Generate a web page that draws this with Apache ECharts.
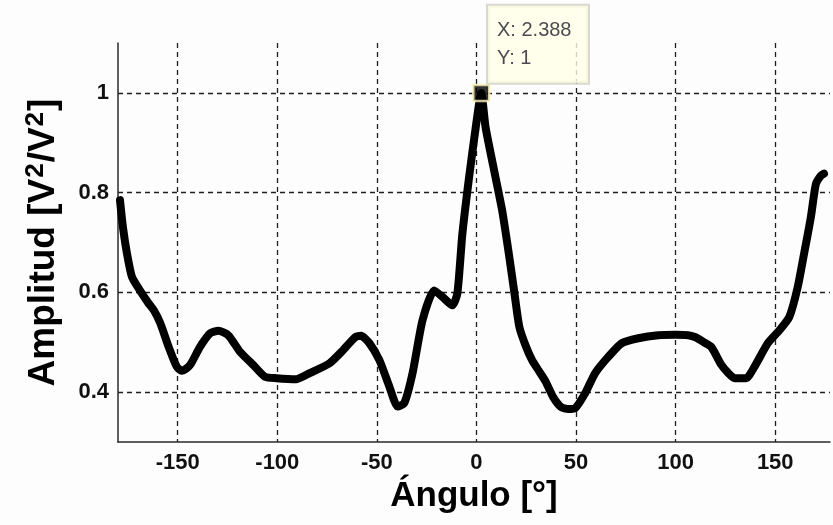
<!DOCTYPE html>
<html><head><meta charset="utf-8">
<script src="https://cdn.jsdelivr.net/npm/echarts@6/dist/echarts.min.js"></script>
<style>html,body{margin:0;padding:0;background:#fdfdfd}#c{width:833px;height:525px}</style>
</head><body><div id="c"></div>
<script>
const angles = [-179, -177.5, -175.5, -173, -169, -165, -162, -158.75, -154.6, -150.5, -148, -145.5, -143.5, -138.75, -133.75, -129.6, -124.6, -118.75, -112, -106.25, -100.4, -90.4, -83.75, -73.75, -67, -61, -58, -53.75, -48.75, -43.75, -39.6, -36.25, -32.1, -27.1, -21.25, -17.1, -12.1, -9.6, -7.1, -3.75, -0.4, 2.388, 4.6, 9.6, 12.9, 16, 19, 21.5, 24.5, 27.9, 31.25, 34.6, 38.5, 42.5, 46, 49.6, 54.6, 59.6, 66.25, 72.9, 81.25, 91.25, 100, 106.25, 110, 114.6, 118, 122.9, 126, 129.6, 135.4, 139.6, 146.25, 152.1, 157.1, 161.25, 164.6, 167.9, 170.4, 172.9, 174.5];
const amplitude = [0.785, 0.73, 0.678, 0.631, 0.604, 0.58, 0.564, 0.538, 0.491, 0.451, 0.443, 0.448, 0.456, 0.491, 0.518, 0.523, 0.514, 0.481, 0.454, 0.431, 0.428, 0.426, 0.438, 0.458, 0.484, 0.51, 0.513, 0.498, 0.464, 0.411, 0.371, 0.378, 0.438, 0.544, 0.604, 0.591, 0.574, 0.598, 0.717, 0.83, 0.93, 1.0, 0.93, 0.83, 0.764, 0.684, 0.6, 0.531, 0.495, 0.464, 0.443, 0.422, 0.39, 0.37, 0.366, 0.368, 0.398, 0.438, 0.471, 0.498, 0.508, 0.514, 0.515, 0.514, 0.51, 0.499, 0.49, 0.455, 0.44, 0.428, 0.428, 0.451, 0.498, 0.524, 0.551, 0.61, 0.68, 0.751, 0.817, 0.834, 0.838];
const xTickLabels = [-150, -100, -50, 0, 50, 100, 150];
const yTickLabels = [0.4, 0.6, 0.8, 1];
const tipX = [2.388];
const tipY = [1];
const xTitle = 'Ángulo [°]';

const FONT = "'Liberation Sans', Arial, sans-serif";
const T = 'rgba(0,0,0,0)';
const GRIDC = '#1e1e1e';

const chart = echarts.init(document.getElementById('c'), null, {renderer: 'canvas'});
chart.setOption({
  backgroundColor: '#fdfdfd',
  animation: false,
  grid: {left: 118, right: 0, top: 43, bottom: 83, containLabel: false},
  xAxis: {
    type: 'value', min: -180, max: 177.5, interval: 10,
    name: xTitle, nameLocation: 'middle', nameGap: 32,
    nameTextStyle: {fontFamily: FONT, fontWeight: 'bold', fontSize: 35, color: '#000'},
    axisLine: {show: true, onZero: false, lineStyle: {color: '#2a2a2a', width: 1.5}},
    axisTick: {show: false},
    axisLabel: {
      margin: 10, fontFamily: FONT, fontWeight: 'bold', fontSize: 22, color: '#111',
      formatter: v => { const r = Math.round(v); return (Math.abs(v - r) < 1e-6 && xTickLabels.includes(r)) ? String(r) : ''; }
    },
    splitLine: {show: true, lineStyle: {color: [T, T, T, GRIDC, T], width: 1.3, type: [5, 4]}}
  },
  yAxis: {
    type: 'value', min: 0.3, max: 1.1, interval: 0.1,
    name: '{a|Amplitud [V}{s|2}{a|/V}{s|2}{a|]}', nameLocation: 'middle', nameGap: 53, nameRotate: 90,
    nameTextStyle: {
      fontFamily: FONT, fontWeight: 'bold', fontSize: 37, color: '#000',
      rich: {
        a: {fontFamily: FONT, fontWeight: 'bold', fontSize: 37, color: '#000', lineHeight: 42},
        s: {fontFamily: FONT, fontWeight: 'bold', fontSize: 26, color: '#000', verticalAlign: 'top', lineHeight: 42, padding: [0, 1, 16, 1]}
      }
    },
    axisLine: {show: true, onZero: false, lineStyle: {color: '#2a2a2a', width: 1.5}},
    axisTick: {show: false},
    axisLabel: {
      margin: 9, fontFamily: FONT, fontWeight: 'bold', fontSize: 22, color: '#111',
      formatter: v => { const r = Math.round(v * 10) / 10; return (Math.abs(v - r) < 1e-6 && yTickLabels.includes(r)) ? String(r) : ''; }
    },
    splitLine: {show: true, lineStyle: {color: [T, GRIDC], width: 1.3, type: [5, 4]}}
  },
  series: [
    {
      type: 'line', data: angles.map((a, i) => [a, amplitude[i]]),
      showSymbol: false, symbol: 'none', smooth: 0.2,
      lineStyle: {color: '#000', width: 8, cap: 'round', join: 'round'},
      z: 3
    },
    {
      type: 'scatter', data: tipX.map((x, i) => [x, tipY[i]]),
      symbol: 'rect', symbolSize: 16,
      itemStyle: {color: '#000', borderColor: '#fff6c0', borderWidth: 2.5},
      label: {
        show: true, position: [16, -78], align: 'left', verticalAlign: 'top',
        formatter: p => 'X: ' + p.value[0] + '\nY: ' + p.value[1],
        fontFamily: FONT, fontSize: 20, color: '#1a1a2a', lineHeight: 28,
        backgroundColor: '#ffffe6', borderColor: '#cfcfc4', borderWidth: 2,
        padding: [11, 9, 10, 9], width: 82
      },
      z: 5
    }
  ]
});
</script></body></html>
